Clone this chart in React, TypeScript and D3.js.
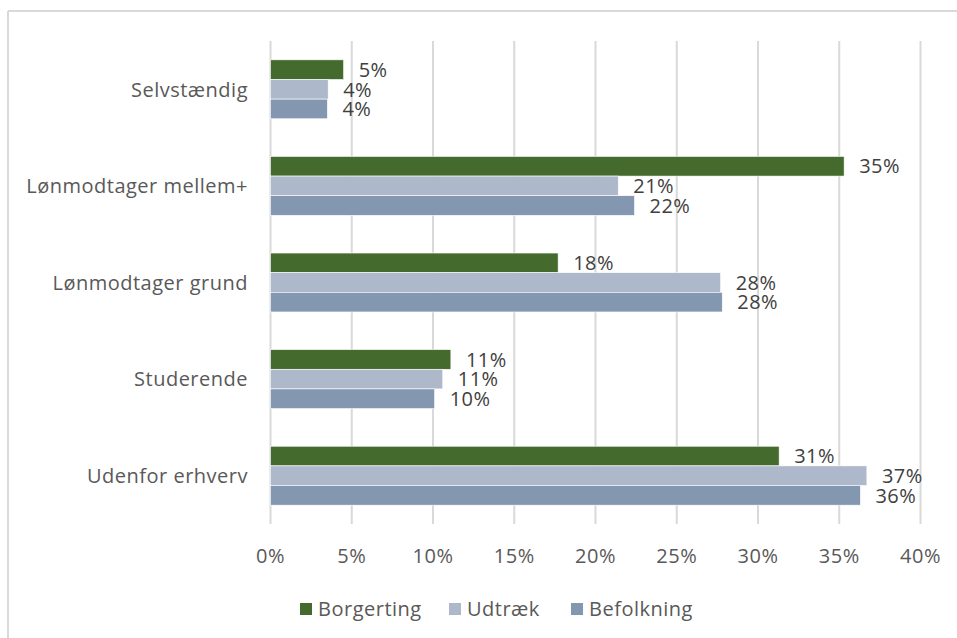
import React from "react";
import * as d3 from "d3";

const categories = ["Selvstændig", "Lønmodtager mellem+", "Lønmodtager grund", "Studerende", "Udenfor erhverv"];
const seriesNames = ["Borgerting", "Udtræk", "Befolkning"];
const borgerting = [4.5, 35.3, 17.7, 11.1, 31.3];
const udtraek = [3.55, 21.4, 27.7, 10.6, 36.7];
const befolkning = [3.5, 22.4, 27.8, 10.1, 36.3];
const xTicks = [0, 5, 10, 15, 20, 25, 30, 35, 40];
const colors = ["#456a2d", "#adb9cb", "#8497b0"];

const W = 957;
const H = 638;
const FONT = "'Open Sans', sans-serif";
const FS = 20;
const LS = 0.5;

export default function App() {
  const seriesValues = [borgerting, udtraek, befolkning];
  const x = d3.scaleLinear().domain([0, 40]).range([270.5, 920.5]);
  const y = d3
    .scaleBand<string>()
    .domain(categories)
    .range([41, 524])
    .paddingInner(0.39)
    .paddingOuter(0.195);
  const inner = d3.scaleBand<string>().domain(seriesNames).range([0, y.bandwidth()]);

  const legendSq = [300, 449, 571];

  return (
    <svg
      width={W}
      height={H}
      style={{ position: "absolute", left: 0, top: 0, background: "#fff" }}
      fontFamily={FONT}
      letterSpacing={LS}
    >
      <rect x={0} y={0} width={W} height={H} fill="#fff" />
      <line x1={8} y1={11} x2={W} y2={11} stroke="#d9d9d9" strokeWidth={2} />
      <line x1={8} y1={11} x2={8} y2={H} stroke="#d9d9d9" strokeWidth={2} />

      {xTicks.map((t) => (
        <line key={t} x1={x(t)} x2={x(t)} y1={41} y2={524} stroke="#d9d9d9" strokeWidth={2} />
      ))}

      {categories.map((c, ci) => (
        <g key={c}>
          {seriesNames.map((s, si) => {
            const v = seriesValues[si][ci];
            const by = (y(c) as number) + (inner(s) as number);
            const bh = inner.bandwidth();
            return (
              <g key={s}>
                <rect
                  x={x(0)}
                  y={by}
                  width={x(v) - x(0)}
                  height={bh}
                  fill={colors[si]}
                  stroke="#fff"
                  strokeWidth={0.6}
                />
                <text x={x(v) + 15} y={by + bh / 2} dy="0.36em" fontSize={FS} fill="#404040">
                  {Math.round(v) + "%"}
                </text>
              </g>
            );
          })}
          <text
            x={248}
            y={(y(c) as number) + y.bandwidth() / 2}
            dy="0.36em"
            textAnchor="end"
            fontSize={FS}
            fill="#595959"
          >
            {c}
          </text>
        </g>
      ))}

      {xTicks.map((t) => (
        <text key={t} x={x(t)} y={556} dy="0.36em" textAnchor="middle" fontSize={FS} fill="#595959">
          {t + "%"}
        </text>
      ))}

      {seriesNames.map((n, i) => (
        <g key={n}>
          <rect x={legendSq[i]} y={603} width={12} height={12} fill={colors[i]} />
          <text x={legendSq[i] + 18} y={609} dy="0.36em" fontSize={FS} fill="#595959">
            {n}
          </text>
        </g>
      ))}
    </svg>
  );
}
